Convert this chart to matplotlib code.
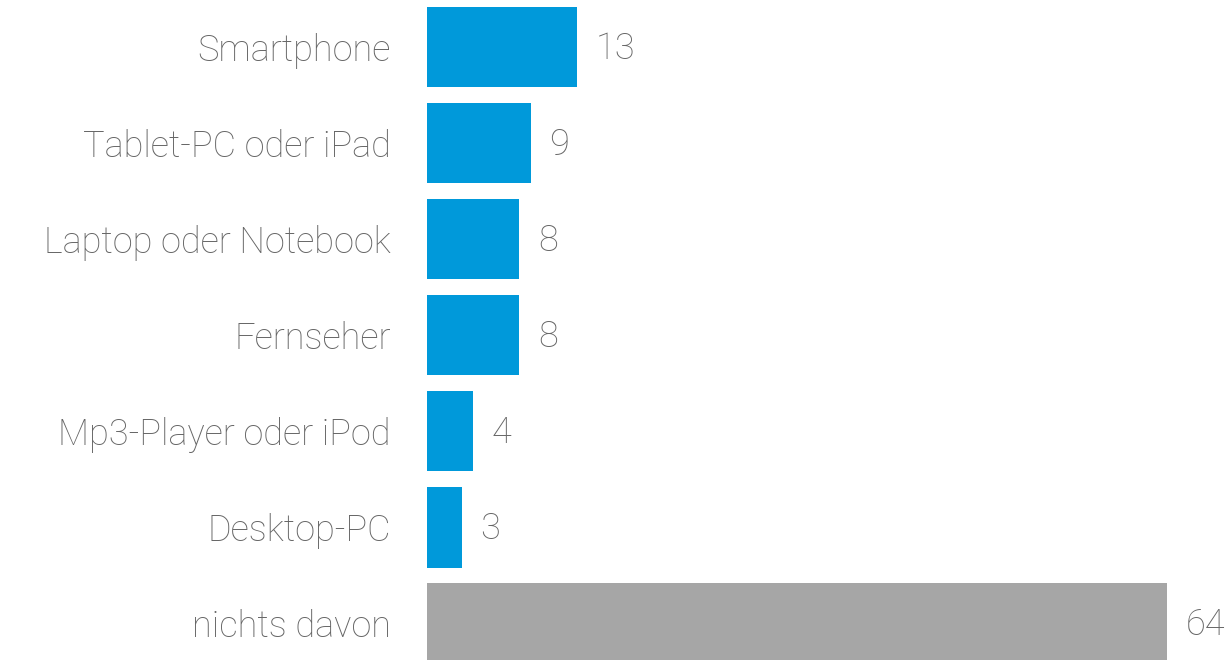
import matplotlib
matplotlib.use("Agg")
import matplotlib.pyplot as plt

# data
categories = ["Smartphone", "Tablet-PC oder iPad", "Laptop oder Notebook",
              "Fernseher", "Mp3-Player oder iPod", "Desktop-PC", "nichts davon"]
values = [13, 9, 8, 8, 4, 3, 64]
colors = ["#0099DA"] * 6 + ["#A6A6A6"]

plt.rcParams["font.family"] = ["Roboto", "DejaVu Sans"]

fig = plt.figure(figsize=(12.28, 6.6), dpi=100)
ax = fig.add_axes([427 / 1228, 0, 801 / 1228, 1])

pos = list(range(len(values)))
ax.barh(pos, values, height=0.835, color=colors)

ax.set_xlim(0, 801 / 11.56)
ax.set_ylim(6.38, -0.49)

for y, v in zip(pos, values):
    ax.text(v + 1.6, y + 0.02, str(v), va="center", ha="left", fontsize=26,
            fontweight="light", color="#666666")

ax.set_yticks(pos)
ax.set_yticklabels(categories, fontsize=26, fontweight="light", color="#666666")
ax.tick_params(axis="y", length=0, pad=26)
ax.set_xticks([])
for s in ax.spines.values():
    s.set_visible(False)

fig.savefig("out.png", dpi=100)
